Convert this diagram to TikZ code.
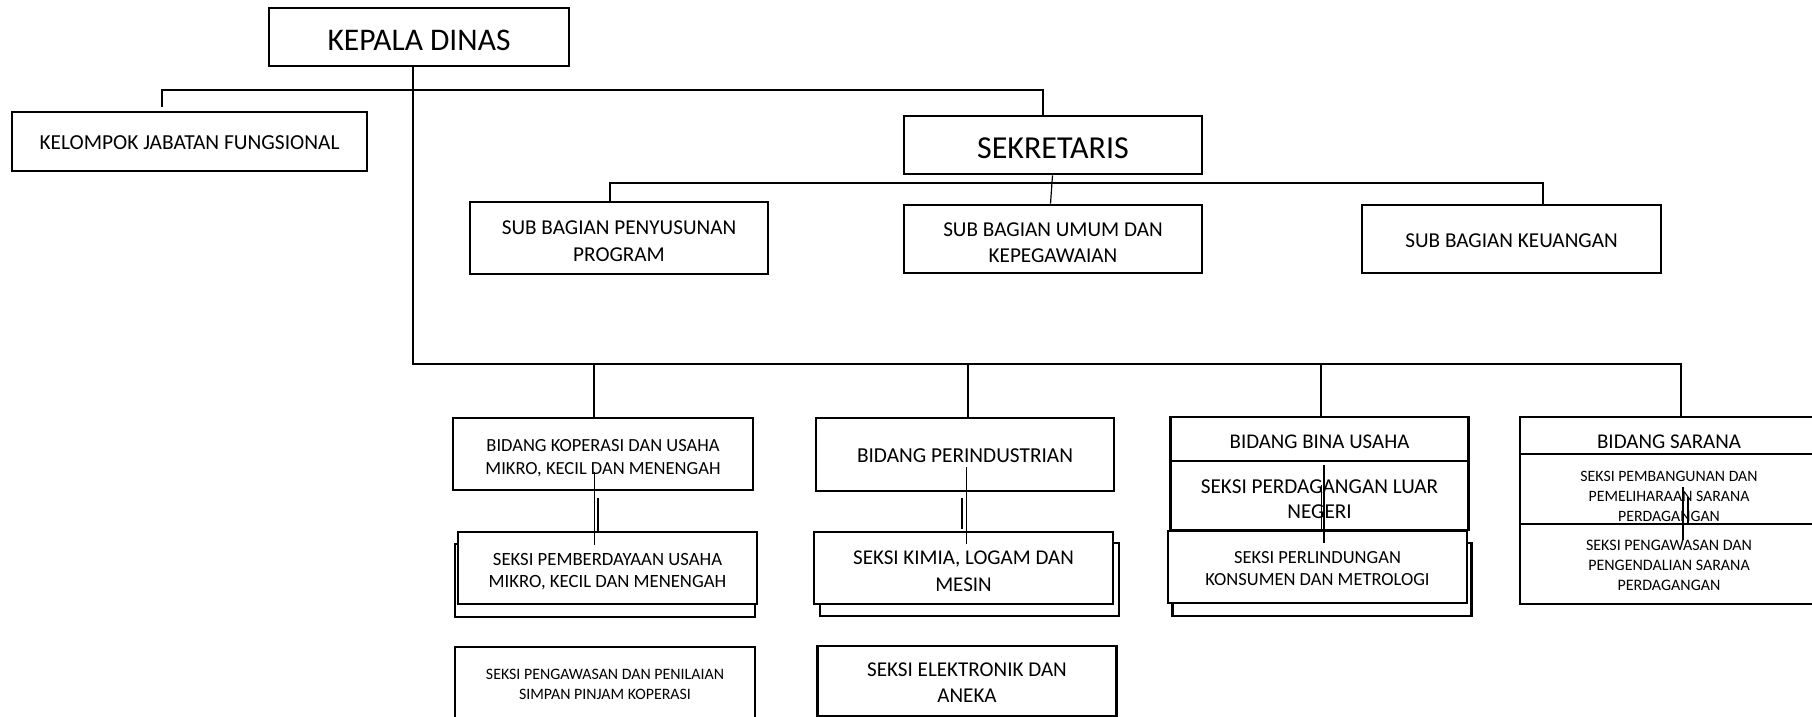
\documentclass[tikz,border=0pt]{standalone}
\usepackage{fontspec}
\setmainfont{Carlito}
\tikzset{box/.style={draw,line width=2.6pt,fill=white,inner sep=0pt},
  txt/.style={align=center,inner sep=0pt},
  line/.style={line width=1.2pt}}
\newcommand{\fs}[2]{\fontsize{#1}{#2}\selectfont}
\begin{document}
\begin{tikzpicture}[x=1pt,y=-1pt]
\useasboundingbox (0,0) rectangle (1812,717);
\clip (0,0) rectangle (1812,717);

\node[box,minimum width=300,minimum height=58,label={[txt,font=\fs{31.5}{36},yshift=-3.5pt]center:KEPALA DINAS}] (kepala) at (419,37) {};
\node[box,minimum width=355,minimum height=59,label={[txt,font=\fs{21.4}{26},yshift=-1.2pt]center:KELOMPOK JABATAN FUNGSIONAL}] (kjf) at (189.5,141.5) {};
\node[box,minimum width=298,minimum height=58,label={[txt,font=\fs{32}{36},yshift=-3.5pt]center:SEKRETARIS}] (sekretaris) at (1053,145) {};

\node[box,minimum width=298,minimum height=72,label={[txt,font=\fs{21.2}{26.5},yshift=-3pt]center:SUB BAGIAN PENYUSUNAN\\PROGRAM}] (sbprog) at (619,238) {};
\node[box,minimum width=298,minimum height=68,label={[txt,font=\fs{21.2}{26.5},yshift=-3.5pt]center:SUB BAGIAN UMUM DAN\\KEPEGAWAIAN}] (sbumum) at (1053,239) {};
\node[box,minimum width=299,minimum height=68,label={[txt,font=\fs{21.2}{26},yshift=-1.2pt]center:SUB BAGIAN KEUANGAN}] (sbkeu) at (1511.5,239) {};

\node[box,minimum width=300,minimum height=72,label={[txt,font=\fs{18.5}{23},yshift=-4pt]center:BIDANG KOPERASI DAN USAHA\\MIKRO, KECIL DAN MENENGAH}] (bkop) at (603,454) {};
\node[box,minimum width=298,minimum height=73,label={[txt,font=\fs{21.3}{26},yshift=-1.2pt]center:BIDANG PERINDUSTRIAN}] (bperin) at (965,454.5) {};
\node[box,minimum width=298,minimum height=44,label={[txt,font=\fs{20.9}{25},yshift=-2.3pt]center:BIDANG BINA USAHA}] (bbina) at (1319.5,439) {};
\node[box,minimum width=298,minimum height=69,label={[txt,font=\fs{21.2}{25.5},yshift=-3.5pt]center:SEKSI PERDAGANGAN LUAR\\NEGERI}] (sluar) at (1319.5,495.5) {};
\node[box,minimum width=299,minimum height=73] (slindb) at (1322,579.5) {};
\node[box,minimum width=299,minimum height=72,label={[txt,font=\fs{18.5}{22},yshift=-1.2pt]center:SEKSI PERLINDUNGAN\\KONSUMEN DAN METROLOGI}] (slind) at (1317.5,567) {};

\node[box,minimum width=298,minimum height=37,label={[txt,font=\fs{21}{25},yshift=-6pt]center:BIDANG SARANA}] (bsarana) at (1669,435.5) {};
\node[box,minimum width=298,minimum height=70,label={[txt,font=\fs{15.8}{19.7},yshift=-7.5pt]center:SEKSI PEMBANGUNAN DAN\\PEMELIHARAAN SARANA\\PERDAGANGAN}] (spemb) at (1669,489) {};
\node[box,minimum width=298,minimum height=80,label={[txt,font=\fs{16}{19.7},yshift=-1.2pt]center:SEKSI PENGAWASAN DAN\\PENGENDALIAN SARANA\\PERDAGANGAN}] (spengend) at (1669,564) {};

\node[box,minimum width=300,minimum height=73] (spembb) at (605,580.5) {};
\node[box,minimum width=299,minimum height=72,label={[txt,font=\fs{18.7}{22.5},yshift=-3.5pt]center:SEKSI PEMBERDAYAAN USAHA\\MIKRO, KECIL DAN MENENGAH}] (spemberd) at (607.5,568) {};
\node[box,minimum width=299,minimum height=73] (skimiab) at (969.5,579.5) {};
\node[box,minimum width=299,minimum height=72,label={[txt,font=\fs{21}{26.5},yshift=-3.5pt]center:SEKSI KIMIA, LOGAM DAN\\MESIN}] (skimia) at (963.5,568) {};
\node[box,minimum width=300,minimum height=74,label={[txt,font=\fs{15.9}{20},yshift=0pt]center:SEKSI PENGAWASAN DAN PENILAIAN\\SIMPAN PINJAM KOPERASI}] (spenilai) at (605,684) {};
\node[box,minimum width=299,minimum height=70,label={[txt,font=\fs{21.1}{26.5},yshift=-1.8pt]center:SEKSI ELEKTRONIK DAN\\ANEKA}] (selek) at (967,681) {};

\coordinate (kjftop) at (162,107);
\coordinate (top2) at (1043,90);
\draw[line] (kjftop) -- (kjftop |- top2) -- (top2) -- (top2 |- sekretaris.north);

\coordinate (sb1) at (610,183);
\coordinate (sb2) at (1543,183);
\draw[line] (sb1 |- sbprog.north) -- (sb1) -- (sb2) -- (sb2 |- sbkeu.north);
\draw[line] ([xshift=-0.5pt]sekretaris.south) -- ([xshift=-2.5pt]sbumum.north);

\coordinate (spine) at (413,364);
\coordinate (bus) at (1681,364);
\draw[line] (kepala.south -| spine) -- (spine) -- (bus) -- (bus |- bsarana.north);
\coordinate (c1) at (594,364);
\coordinate (c2) at (968,364);
\coordinate (c3) at (1321,364);
\draw[line] (c1) -- (c1 |- bkop.north);
\draw[line] (c2) -- (c2 |- bperin.north);
\draw[line] (c3) -- (c3 |- bbina.north);

\draw[line] (bkop.center) ++(-8.5,18) -- ++(0,73);
\draw[line] (bkop.center) ++(-5,44) -- ++(0,34);
\draw[line] (bperin.center) ++(1.5,12.5) -- ++(0,77);
\draw[line] (bperin.center) ++(-3,43.5) -- ++(0,31);
\draw[line] (bbina.center) ++(4.5,26) -- ++(0,78);
\draw[line] (bbina.center) ++(2,46) -- ++(0,45);
\draw[line] (bsarana.center) ++(14,51.5) -- ++(0,53);
\draw[line] (bsarana.center) ++(19,61.5) -- ++(0,28);
\end{tikzpicture}
\end{document}
